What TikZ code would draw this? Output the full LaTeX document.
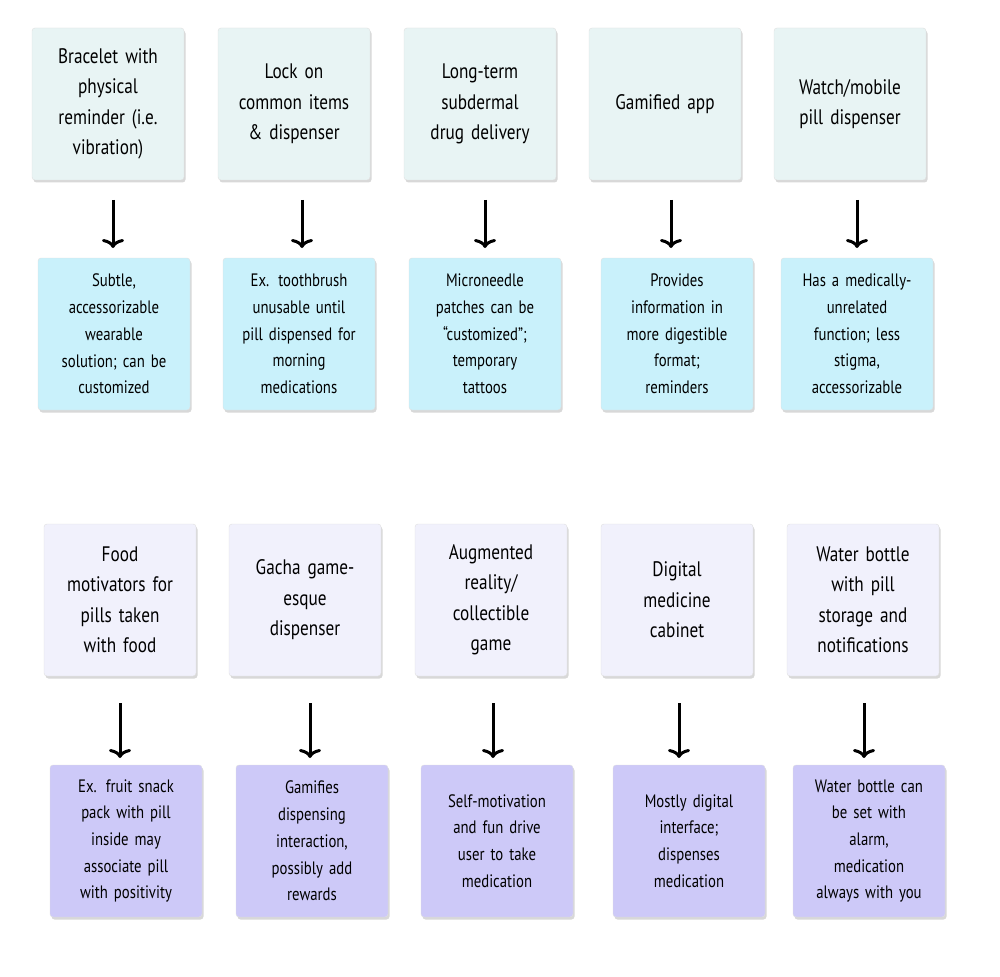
\documentclass[tikz,border=0pt]{standalone}
\usepackage{fontspec}
\setmainfont{PT Sans}[FakeStretch=0.82]
\usetikzlibrary{arrows.meta,shadows}
\definecolor{cA}{HTML}{E8F4F4}
\definecolor{cB}{HTML}{C9F1FB}
\definecolor{cC}{HTML}{F1F1FC}
\definecolor{cD}{HTML}{CDC9F8}
\tikzset{
 box/.style={rounded corners=3pt,minimum width=152pt,minimum height=152pt,text width=140pt,align=center,draw=black!12,line width=0.4pt,
  drop shadow={shadow xshift=1.5pt,shadow yshift=-2.5pt,opacity=0.25,fill=black!60}},
 big/.style={box,font=\fontsize{21}{30.5}\selectfont},
 small/.style={box,font=\fontsize{18}{26.7}\selectfont},
 arr/.style={-{To[length=9pt,width=22pt,line width=3pt]},line width=3pt}
}
\begin{document}
\begin{tikzpicture}[x=1pt,y=-1pt]
\useasboundingbox[fill=white] (0,0) rectangle (1000,976);
\foreach \i/\xa/\xb/\ta/\tb in {1/108/114/{Bracelet with\\physical\\reminder (i.e.\\vibration)}/{Subtle,\\accessorizable\\wearable\\solution; can be\\customized},
 2/294/299/{Lock on\\common items\\\& dispenser}/{Ex. toothbrush\\unusable until\\pill dispensed for\\morning\\medications},
 3/480/485/{Long-term\\subdermal\\drug delivery}/{Microneedle\\patches can be\\“customized”;\\temporary\\tattoos},
 4/665/677/{Gamified app}/{Provides\\information in\\more digestible\\format;\\reminders},
 5/850/857/{Watch/mobile\\pill dispenser}/{Has a medically-\\unrelated\\function; less\\stigma,\\accessorizable}}{
 \node[big,fill=cA] (t\i) at (\xa,104) {\ta};
 \node[small,fill=cB] (u\i) at (\xb,334) {\tb};
}
\foreach \i/\xa/\xb/\ta/\tb in {1/120/126/{Food\\motivators for\\pills taken\\with food}/{Ex. fruit snack\\pack with pill\\inside may\\associate pill\\with positivity},
 2/305/312/{Gacha game-\\esque\\dispenser}/{Gamifies\\dispensing\\interaction,\\possibly add\\rewards},
 3/491/497/{Augmented\\reality/\\collectible\\game}/{Self-motivation\\and fun drive\\user to take\\medication},
 4/677/689/{Digital\\medicine\\cabinet}/{Mostly digital\\interface;\\dispenses\\medication},
 5/863/869/{Water bottle\\with pill\\storage and\\notifications}/{Water bottle can\\be set with\\alarm,\\medication\\always with you}}{
 \node[big,fill=cC] (p\i) at (\xa,600) {\ta};
 \node[small,fill=cD] (q\i) at (\xb,841) {\tb};
}
\foreach \x/\n in {113/1,302/2,485/3,671/4,857/5}{
 \coordinate (a\n) at (\x,200); \coordinate (b\n) at (\x,248);
 \draw[arr] (a\n) -- (b\n);}
\foreach \x/\n in {120/1,310/2,493/3,679/4,864/5}{
 \coordinate (c\n) at (\x,703); \coordinate (d\n) at (\x,758);
 \draw[arr] (c\n) -- (d\n);}
\end{tikzpicture}
\end{document}
